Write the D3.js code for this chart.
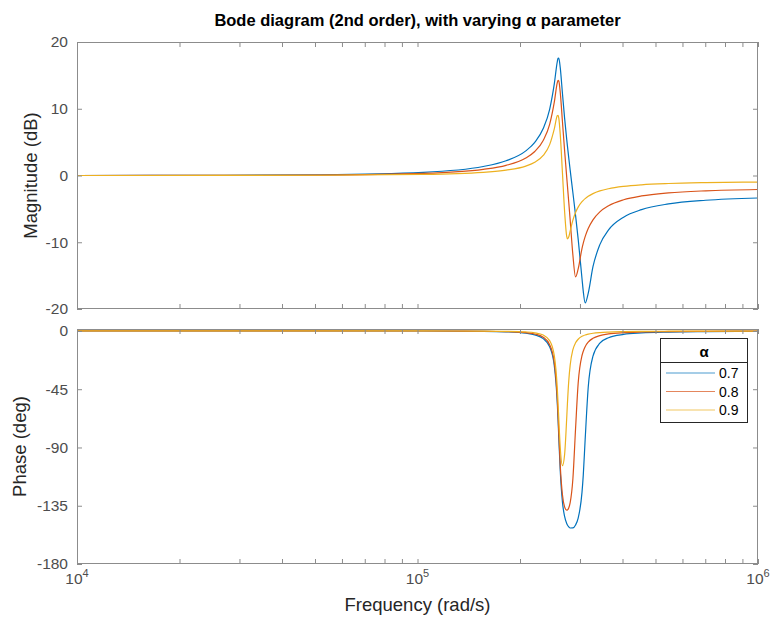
<!DOCTYPE html>
<html>
<head>
<meta charset="utf-8">
<title>Bode diagram</title>
<script src="https://cdn.jsdelivr.net/npm/d3@7"></script>
<style>
  body { margin: 0; background: #fff; }
  text { font-family: "Liberation Sans", Arial, Helvetica, sans-serif; }
</style>
</head>
<body>
<div class="box"></div>
<script>
// frequency samples (rad/s)
var freq = [1e4, 2.6e4, 5.2e4, 1.04e5, 1.56e5, 1.82e5, 2.08e5, 2.21e5, 2.34e5, 2.444e5,
  2.522e5, 2.574e5, 2.587e5, 2.6e5, 2.626e5, 2.665e5, 2.704e5, 2.743e5, 2.756e5, 2.782e5,
  2.808e5, 2.86e5, 2.912e5, 2.964e5, 3.042e5, 3.068e5, 3.107e5, 3.172e5, 3.276e5, 3.432e5,
  3.64e5, 4.03e5, 4.55e5, 5.46e5, 7.02e5, 1e6];

var alphas = ["0.7", "0.8", "0.9"];

// magnitude (dB)
var mag07 = [0, 0.03, 0.11, 0.48, 1.35, 2.2, 3.69, 4.97, 7.03, 9.92,
  13.73, 17.07, 17.55, 17.58, 16.12, 12.28, 8.6, 5.41, 4.43, 2.57,
  0.8, -2.59, -5.97, -9.53, -15.46, -17.36, -19.09, -17.65, -13.67, -10.36,
  -8.15, -6.24, -5.11, -4.26, -3.71, -3.37];
var mag08 = [0, 0.02, 0.07, 0.33, 0.93, 1.52, 2.63, 3.6, 5.25, 7.66,
  10.98, 13.9, 14.25, 14.15, 12.41, 8.06, 3.75, -0.24, -1.52, -4.09,
  -6.69, -11.92, -15.19, -14.0, -10.9, -10.12, -9.15, -7.94, -6.64, -5.45,
  -4.53, -3.63, -3.06, -2.6, -2.29, -2.1];
var mag09 = [0, 0.01, 0.04, 0.16, 0.48, 0.8, 1.41, 1.99, 3.01, 4.62,
  6.99, 8.96, 9.03, 8.6, 6.12, 0.39, -5.37, -9.12, -9.48, -9.18,
  -8.33, -6.69, -5.54, -4.74, -3.92, -3.72, -3.46, -3.11, -2.71, -2.31,
  -1.98, -1.63, -1.39, -1.2, -1.07, -0.99];

// phase (deg)
var ph07 = [0, 0, -0.01, -0.06, -0.31, -0.7, -1.76, -3.05, -5.97, -12.27,
  -26.81, -56.13, -68.54, -82.41, -108.41, -132.19, -143.27, -148.7, -149.84, -151.38,
  -152.2, -152.13, -149.84, -144.55, -124.52, -111.35, -84.09, -43.66, -19.46, -9.44,
  -5.22, -2.67, -1.56, -0.89, -0.52, -0.3];
var ph08 = [0, 0, 0, -0.04, -0.22, -0.51, -1.33, -2.38, -4.89, -10.59,
  -24.37, -52.93, -65.1, -78.69, -104.06, -126.58, -135.83, -138.46, -138.32, -136.56,
  -132.59, -114.2, -75.52, -40.32, -18.97, -15.64, -12.18, -8.64, -5.67, -3.56,
  -2.29, -1.32, -0.82, -0.49, -0.3, -0.17];
var ph09 = [0, 0, 0, -0.02, -0.11, -0.28, -0.76, -1.43, -3.16, -7.5,
  -19.08, -44.76, -55.87, -68.2, -90.2, -104.02, -95.54, -67.19, -56.22, -38.15,
  -26.41, -14.48, -9.17, -6.4, -4.17, -3.7, -3.14, -2.47, -1.8, -1.24,
  -0.85, -0.52, -0.34, -0.21, -0.13, -0.08];

var magTicks = [-20, -10, 0, 10, 20];
var phaseTicks = [-180, -135, -90, -45, 0];
var decades = [1e4, 1e5, 1e6];

var magSeries = [mag07, mag08, mag09];
var phSeries = [ph07, ph08, ph09];
var colors = ["#0072BD", "#D95319", "#EDB120"]; // matlab default order

var width = 774, height = 619;
var left = 77, right = 758;
var top1 = 42, bot1 = 309;
var top2 = 329, bot2 = 564;
var axisCol = "#8c8c8c", tickTxt = "#4d4d4d", labCol = "#262626";

var svg = d3.select("div.box").append("svg")
  .attr("width", width)
  .attr("height", height);

var x = d3.scaleLog().domain([1e4, 1e6]).range([left, right]);
var yMag = d3.scaleLinear().domain([-20, 20]).range([bot1, top1]);
var yPh = d3.scaleLinear().domain([-180, 1.5]).range([bot2, top2]);

svg.append("text")
  .attr("x", (left + right) / 2).attr("y", 26)
  .attr("text-anchor", "middle")
  .attr("font-size", 16.5).attr("font-weight", "bold").attr("fill", "#000")
  .text("Bode diagram (2nd order), with varying \u03b1 parameter");

// plain hyphen minus like the original
function plain(d) { return String(d); }

function panel(y, yTicks, series, top, bot, clipId) {
  var g = svg.append("g");

  g.append("clipPath").attr("id", clipId)
    .append("rect").attr("x", left).attr("y", top)
    .attr("width", right - left).attr("height", bot - top);

  var line = d3.line()
    .x(function(d, i) { return x(freq[i]); })
    .y(function(d) { return y(d); })
    .curve(d3.curveMonotoneX);

  g.selectAll("path.series")
    .data(series)
    .enter()
    .append("path")
    .attr("class", "series")
    .attr("clip-path", "url(#" + clipId + ")")
    .attr("d", line)
    .attr("fill", "none")
    .attr("stroke", function(d, i) { return colors[i]; })
    .attr("stroke-width", 1.2);

  // inward ticks on all four sides
  g.append("g").attr("transform", "translate(0," + bot + ")")
    .call(d3.axisBottom(x).tickSize(-5).tickFormat("").tickSizeOuter(0));
  g.append("g").attr("transform", "translate(0," + top + ")")
    .call(d3.axisTop(x).tickSize(-5).tickFormat("").tickSizeOuter(0));

  g.append("g").attr("transform", "translate(" + left + ",0)")
    .call(d3.axisLeft(y).tickValues(yTicks).tickSize(-5).tickSizeOuter(0)
      .tickPadding(9).tickFormat(plain))
    .selectAll("text").attr("font-size", 15.5).attr("fill", tickTxt)
    .style("font-family", "'Liberation Sans', Arial, sans-serif");
  g.append("g").attr("transform", "translate(" + right + ",0)")
    .call(d3.axisRight(y).tickValues(yTicks).tickSize(-5).tickSizeOuter(0).tickFormat(""));

  g.selectAll(".domain").remove();
  g.selectAll(".tick line").attr("stroke", axisCol);

  g.append("rect")
    .attr("x", left + 0.5).attr("y", top + 0.5)
    .attr("width", right - left - 1).attr("height", bot - top - 1)
    .attr("fill", "none").attr("stroke", axisCol).attr("stroke-width", 1);
  return g;
}

panel(yMag, magTicks, magSeries, top1, bot1, "clipMag");
panel(yPh, phaseTicks, phSeries, top2, bot2, "clipPh");

// decade labels 10^n under the lower panel
svg.selectAll("text.dec")
  .data(decades)
  .enter()
  .append("text")
  .attr("class", "dec")
  .attr("x", function(d) { return x(d); })
  .attr("y", 584)
  .attr("text-anchor", "middle")
  .attr("font-size", 15.5)
  .attr("fill", tickTxt)
  .each(function(d) {
    var t = d3.select(this);
    t.append("tspan").text("10");
    t.append("tspan").attr("dy", -7).attr("font-size", 11)
      .text(Math.round(Math.log10(d)));
  });

svg.append("text")
  .attr("x", (left + right) / 2).attr("y", 611)
  .attr("text-anchor", "middle")
  .attr("font-size", 18.5).attr("fill", labCol)
  .text("Frequency  (rad/s)");

svg.append("text")
  .attr("transform", "translate(37," + (top1 + bot1) / 2 + ") rotate(-90)")
  .attr("text-anchor", "middle")
  .attr("font-size", 18.5).attr("fill", labCol)
  .text("Magnitude (dB)");

svg.append("text")
  .attr("transform", "translate(26," + (top2 + bot2) / 2 + ") rotate(-90)")
  .attr("text-anchor", "middle")
  .attr("font-size", 18.5).attr("fill", labCol)
  .text("Phase (deg)");

// legend
var lg = svg.append("g").attr("transform", "translate(660,338)");
lg.append("rect")
  .attr("x", 0.5).attr("y", 0.5).attr("width", 87).attr("height", 84)
  .attr("fill", "#fff").attr("stroke", "#262626").attr("stroke-width", 1);
lg.append("line")
  .attr("x1", 0.5).attr("x2", 87.5).attr("y1", 24.5).attr("y2", 24.5)
  .attr("stroke", "#262626");
lg.append("text")
  .attr("x", 44).attr("y", 19)
  .attr("text-anchor", "middle")
  .attr("font-size", 15).attr("font-weight", "bold")
  .text("\u03b1");

var items = lg.selectAll("g.item")
  .data(alphas)
  .enter()
  .append("g")
  .attr("class", "item")
  .attr("transform", function(d, i) { return "translate(0," + (35 + i * 18.5) + ")"; });
items.append("line")
  .attr("x1", 6).attr("x2", 55)
  .attr("stroke", function(d, i) { return colors[i]; })
  .attr("stroke-width", 1.2)
  .attr("opacity", 0.7);
items.append("text")
  .attr("x", 59).attr("y", 5)
  .attr("font-size", 14).attr("fill", "#000")
  .text(function(d) { return d; });
</script>
</body>
</html>
